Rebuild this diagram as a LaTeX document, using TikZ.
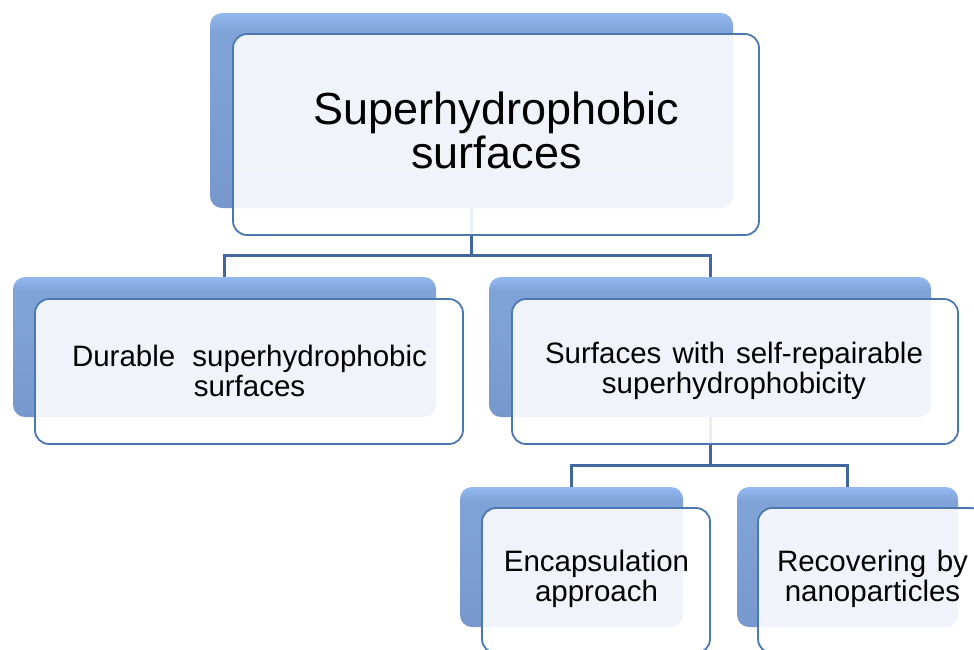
\documentclass[tikz,border=0pt]{standalone}
\usepackage{fontspec}
\setmainfont{Liberation Sans}
\definecolor{backtop}{HTML}{93B9F0}
\definecolor{backmid}{HTML}{7FA2D7}
\definecolor{backbot}{HTML}{7898CD}
\definecolor{frontline}{HTML}{4C78B2}
\definecolor{conn}{HTML}{41689E}
\pgfdeclareverticalshading{backshade}{100bp}{%
  color(0bp)=(backbot); color(25bp)=(backbot); color(62bp)=(backmid);
  color(70bp)=(backmid); color(75bp)=(backtop); color(100bp)=(backtop)}
\tikzset{
  backbox/.style={rectangle, rounded corners=12pt, draw=none,
    shading=backshade, inner sep=0pt},
  frontbox/.style={rectangle, rounded corners=14pt, draw=frontline, line width=1.8pt,
    fill=white, fill opacity=0.89, text opacity=1, inner sep=0pt, align=center, text=black},
  bigtext/.style={font=\fontsize{45}{44}\selectfont},
  midtext/.style={font=\fontsize{29.5}{30}\selectfont},
  connector/.style={draw=conn, line width=3pt},
}
\begin{document}
\begin{tikzpicture}[x=1pt,y=-1pt]
\useasboundingbox (0,0) rectangle (974,649);
% back boxes
\node[backbox, minimum width=523pt, minimum height=195pt] (topB) at (471.5,110.5) {};
\node[backbox, minimum width=423pt, minimum height=140pt] (leftB) at (224.5,347) {};
\node[backbox, minimum width=442pt, minimum height=140pt] (rightB) at (710,347) {};
\node[backbox, minimum width=223pt, minimum height=140pt] (gcLB) at (571.5,557) {};
\node[backbox, minimum width=221pt, minimum height=140pt] (gcRB) at (847.5,557) {};
% connectors
\coordinate (j1) at (471.5,255);
\coordinate (j2) at (710,465);
\draw[connector] (topB.south) -- (j1) -| (leftB.north);
\draw[connector] (j1) -| (rightB.north);
\draw[connector] (rightB.south) -- (j2) -| (gcLB.north);
\draw[connector] (j2) -| (gcRB.north);
% front boxes
\node[frontbox, minimum width=526pt, minimum height=201pt] (topF) at (496,134.5) {};
\node[bigtext, align=center] (topT) at (496.5,130) {Superhydrophobic\\surfaces};
\node[frontbox, minimum width=428pt, minimum height=145pt] (leftF) at (249,371.5) {};
\node[midtext, align=center] (leftT) at (249.5,371) {\makebox[355pt][s]{Durable superhydrophobic}\\surfaces};
\node[frontbox, minimum width=446pt, minimum height=145pt] (rightF) at (735,371.5) {};
\node[midtext, align=center] (rightT) at (734,371) {\makebox[378pt][s]{Surfaces with self-repairable}\\superhydrophobicity};
\node[frontbox, minimum width=228pt, minimum height=145pt] (gcLF) at (596,580.5) {};
\node[midtext, align=center] (gcLT) at (596.5,579) {Encapsulation\\approach};
\node[frontbox, minimum width=227pt, minimum height=145pt] (gcRF) at (871.5,580.5) {};
\node[midtext, align=center] (gcRT) at (872.5,579) {\makebox[191pt][s]{Recovering by}\\nanoparticles};
\end{tikzpicture}
\end{document}
